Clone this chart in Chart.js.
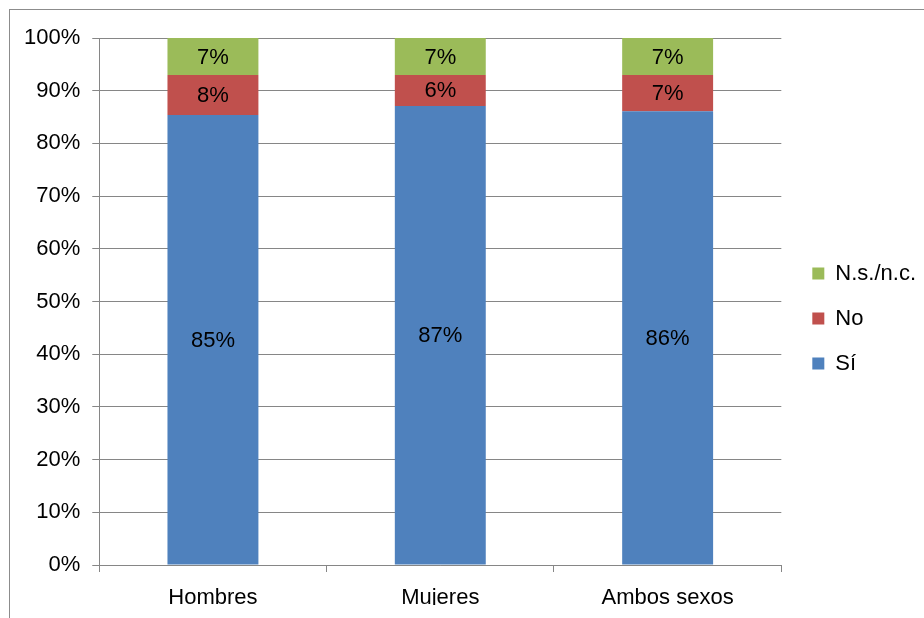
<!DOCTYPE html>
<html>
<head>
<meta charset="utf-8">
<script src="https://cdn.jsdelivr.net/npm/chart.js@4"></script>
<style>
  html, body { margin: 0; padding: 0; background: #fff; }
  #wrap { width: 924px; height: 618px; }
</style>
</head>
<body>
<div id="wrap"><canvas id="chart" width="924" height="618"></canvas></div>
<script>
// categories and series (percent of each group)
var categories = ['Hombres', 'Mujeres', 'Ambos sexos'];
var si = [85.4, 87.1, 86.1];
var no = [7.6, 5.9, 6.9];
var nsnc = [7.0, 7.0, 7.0];
var yTicks = [0, 10, 20, 30, 40, 50, 60, 70, 80, 90, 100];

var font = 'Liberation Sans, Arial, sans-serif';

// white background + outer frame
var framePlugin = {
	id: 'frame',
	beforeDraw: function(chart) {
		var c = chart.ctx;
		c.save();
		c.fillStyle = '#fff';
		c.fillRect(0, 0, chart.width, chart.height);
		c.strokeStyle = '#8c8c8c';
		c.lineWidth = 1;
		c.strokeRect(9.5, 9.5, 940, 640);
		c.restore();
	},
	// nudge the legend a bit away from the plot
	afterLayout: function(chart) {
		if (chart.legend) {
			chart.legend.left += 8;
			chart.legend.right += 8;
			chart.legend.top -= 3;
			chart.legend.bottom -= 3;
		}
	}
};

// value labels centred in every segment
var labelPlugin = {
	id: 'segLabels',
	afterDatasetsDraw: function(chart) {
		var c = chart.ctx;
		c.save();
		c.font = '22px ' + font;
		c.fillStyle = '#000';
		c.textAlign = 'center';
		c.textBaseline = 'middle';
		chart.data.datasets.forEach(function(ds, i) {
			chart.getDatasetMeta(i).data.forEach(function(bar, j) {
				var y = (bar.y + bar.base) / 2;
				c.fillText(Math.round(ds.data[j]) + '%', bar.x, y + 1);
			});
		});
		c.restore();
	}
};

var ctx = document.getElementById('chart').getContext('2d');
var chart = new Chart(ctx, {
	type: 'bar',
	data: {
		labels: categories,
		datasets: [
			{ label: 'Sí', data: si, backgroundColor: '#4f81bd' },
			{ label: 'No', data: no, backgroundColor: '#c0504d' },
			{ label: 'N.s./n.c.', data: nsnc, backgroundColor: '#9bbb59' }
		]
	},
	options: {
		responsive: false,
		animation: false,
		layout: { padding: { left: 12, top: 38, right: 6, bottom: 13 } },
		datasets: { bar: { barPercentage: 0.4, categoryPercentage: 1 } },
		plugins: {
			tooltip: { enabled: false },
			legend: {
				position: 'right',
				reverse: true,
				labels: {
					boxWidth: 12,
					boxHeight: 12,
					padding: 23,
					color: '#000',
					font: { family: font, size: 22 }
				}
			}
		},
		scales: {
			x: {
				stacked: true,
				grid: { drawOnChartArea: false, tickLength: 7, color: '#868686' },
				border: { color: '#868686' },
				ticks: { color: '#000', font: { family: font, size: 22 }, padding: 13 },
				afterFit: function(scale) { scale.height = 40; }
			},
			y: {
				stacked: true,
				min: 0,
				max: 100,
				afterBuildTicks: function(scale) {
					scale.ticks = yTicks.map(function(v) { return { value: v }; });
				},
				grid: { color: '#868686', tickLength: 7 },
				border: { color: '#868686' },
				ticks: {
					color: '#000',
					font: { family: font, size: 22 },
					padding: 12,
					callback: function(v) { return v + '%'; }
				}
			}
		}
	},
	plugins: [framePlugin, labelPlugin]
});
</script>
</body>
</html>
